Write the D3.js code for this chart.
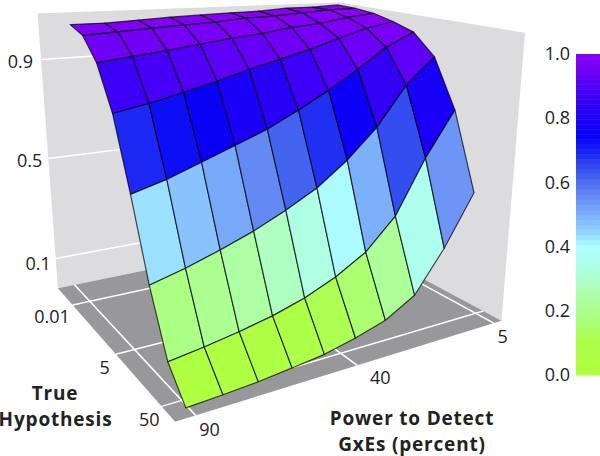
<!DOCTYPE html>
<html>
<head>
<meta charset="utf-8">
<style>
	body { margin: 0; background: #fff; }
	text { font-family: "Open Sans", "Noto Sans", sans-serif; fill: #222; }
	.title { font-weight: 700; letter-spacing: 0.8px; }
</style>
<script src="https://cdn.jsdelivr.net/npm/d3@7"></script>
</head>
<body>
<svg id="chart" width="600" height="456"></svg>
<script>
// grid categories
var powers = [90, 80, 70, 60, 50, 40, 30, 20, 10, 5];
var hypotheses = [0.01, 0.05, 0.1, 1, 5, 10, 25, 50];

// probability for each hypothesis row, read left (90) to right (5)
var row001 = [0.981, 0.981, 0.984, 0.987, 0.989, 0.991, 0.992, 0.996, 0.996, 0.999];
var row005 = [0.969, 0.972, 0.976, 0.979, 0.982, 0.987, 0.989, 0.993, 0.997, 0.998];
var row01 = [0.928, 0.935, 0.942, 0.950, 0.958, 0.964, 0.973, 0.978, 0.988, 0.994];
var row1 = [0.802, 0.824, 0.851, 0.880, 0.907, 0.922, 0.937, 0.956, 0.973, 0.984];
var row5 = [0.554, 0.587, 0.630, 0.674, 0.718, 0.775, 0.837, 0.903, 0.943, 0.970];
var row10 = [0.278, 0.311, 0.351, 0.396, 0.451, 0.514, 0.601, 0.710, 0.858, 0.929];
var row25 = [0.071, 0.084, 0.100, 0.127, 0.164, 0.216, 0.286, 0.402, 0.607, 0.776];
var row50 = [0.000, 0.005, 0.011, 0.021, 0.032, 0.052, 0.078, 0.137, 0.295, 0.489];
var rows = [row001, row005, row01, row1, row5, row10, row25, row50];

// tick labels
var powerTicks = [90, 40, 5];
var hypTicks = [0.01, 5, 50];
var valueTicks = [0.1, 0.5, 0.9];
var legendTicks = [0, 0.2, 0.4, 0.6, 0.8, 1];

// colour ramp of the legend
var colorStops = [0, 0.1, 0.17, 0.25, 0.33, 0.4, 0.45, 0.55, 0.62, 0.74, 0.85, 1];
var colorValues = ["#b0ff40", "#aeff48", "#aaff78", "#aeffa8", "#aeffe0", "#aeffff", "#90d0ff", "#6a90f4", "#4060ee", "#0400f6", "#3000f5", "#8c00f5"];

var svg = d3.select("#chart");

// box coordinates are all 0..1, the camera turns them into pixels
var camera = [
	[345.272, 72.299, -23.619, 57.933],
	[-9.519, 25.520, -275.906, 288.158],
	[0.20440, -0.25620, -0.08752, 1]
];

function project(p) {
	var w = camera[2][0] * p[0] + camera[2][1] * p[1] + camera[2][2] * p[2] + camera[2][3];
	return [
		(camera[0][0] * p[0] + camera[0][1] * p[1] + camera[0][2] * p[2] + camera[0][3]) / w,
		(camera[1][0] * p[0] + camera[1][1] * p[1] + camera[1][2] * p[2] + camera[1][3]) / w
	];
}

var x = d3.scalePoint().domain(powers).range([0.05, 0.91]);
var y = d3.scalePoint().domain(hypotheses).range([0.141, 0.938]);
var z = d3.scaleLinear().domain([0, 0.1, 0.9, 1]).range([-0.01, 0.117, 0.838, 1.009]);

var xTick = d3.scaleLinear().domain([90, 40, 5]).range([0.05, 0.498, 0.97]);
var yTick = d3.scaleLinear().domain([0.01, 5, 50]).range([0.163, 0.568, 0.912]);
var zTick = d3.scaleLinear().domain([0.1, 0.5, 0.9]).range([0.117, 0.495, 0.845]);

var color = d3.scaleLinear().domain(colorStops).range(colorValues).clamp(true);

var path = d3.line();

function poly(points) {
	return path(points.map(project)) + "Z";
}

// walls and floor
svg.append("path").attr("d", poly([[0, 0, 0], [1, 0, 0], [1, 0, 1], [0, 0, 1]])).attr("fill", "#dcdcde");
svg.append("path").attr("d", poly([[1, 0, 0], [1, 1, 0], [1, 1, 1], [1, 0, 1]])).attr("fill", "#dcdcde");
svg.append("path").attr("d", poly([[0, 0, 0], [1, 0, 0], [1, 1, 0], [0, 1, 0]])).attr("fill", "#98989b");

// white grid lines
function whiteLine(a, b) {
	svg.append("path")
		.attr("d", path([project(a), project(b)]))
		.attr("stroke", "#fff")
		.attr("stroke-width", 1.5)
		.attr("fill", "none");
}

valueTicks.forEach(function(t) { whiteLine([0, 0, zTick(t)], [1, 0, zTick(t)]); });
hypTicks.forEach(function(t) { whiteLine([0, yTick(t), 0], [1, yTick(t), 0]); });
powerTicks.forEach(function(t) { whiteLine([xTick(t), 0, 0], [xTick(t), 1, 0]); });

// surface cells, back row first
var cells = [];
for (var j = 0; j < hypotheses.length - 1; j++) {
	for (var i = 0; i < powers.length - 1; i++) {
		cells.push({i: i, j: j});
	}
}

function corner(i, j) {
	return [x(powers[i]), y(hypotheses[j]), z(rows[j][i])];
}

svg.append("g").selectAll("path")
	.data(cells)
	.enter()
	.append("path")
		.attr("d", function(d) {
			return poly([corner(d.i, d.j), corner(d.i + 1, d.j), corner(d.i + 1, d.j + 1), corner(d.i, d.j + 1)]);
		})
		.attr("fill", function(d) {
			return color((rows[d.j][d.i] + rows[d.j][d.i + 1] + rows[d.j + 1][d.i] + rows[d.j + 1][d.i + 1]) / 4);
		})
		.attr("stroke", "#000")
		.attr("stroke-opacity", 0.7)
		.attr("stroke-width", 1.2)
		.attr("stroke-linejoin", "round");

// tick labels hang off the box edges
function label(p, dx, dy, txt, anchor) {
	var q = project(p);
	svg.append("text")
		.attr("x", q[0] + dx)
		.attr("y", q[1] + dy)
		.attr("text-anchor", anchor)
		.attr("font-size", 18)
		.text(txt);
}

label([0, 0, zTick(0.9)], -8, 9, "0.9", "end");
label([0, 0, zTick(0.5)], -6, 9, "0.5", "end");
label([0, 0, zTick(0.1)], -5, 11, "0.1", "end");
label([0, yTick(0.01), 0], -3, 18, "0.01", "end");
label([0, yTick(5), 0], -6, 20, "5", "end");
label([0, yTick(50), 0], -2, 20, "50", "end");
label([xTick(90), 1, 0], 14, 21, "90", "middle");
label([xTick(40), 1, 0], 23, 19, "40", "middle");
label([xTick(5), 1, 0], 9, 20, "5", "middle");

// axis titles
function title(cx, cy, txt) {
	svg.append("text")
		.attr("class", "title")
		.attr("x", cx)
		.attr("y", cy)
		.attr("text-anchor", "middle")
		.attr("font-size", 19)
		.text(txt);
}

title(55, 400, "True");
title(55.5, 426, "Hypothesis");
title(412, 425, "Power to Detect");
title(412, 451, "GxEs (percent)");

// legend
var legend = d3.scaleLinear().domain([0, 1]).range([375, 54]);
var levels = d3.range(64).map(function(k) { return k / 64; });

svg.append("g").selectAll("rect")
	.data(levels)
	.enter()
	.append("rect")
		.attr("x", 576)
		.attr("width", 24)
		.attr("y", function(d) { return legend(d + 1 / 64); })
		.attr("height", legend(0) - legend(1 / 64) + 0.5)
		.attr("fill", function(d) { return color(d + 1 / 128); });

var legendAxis = svg.append("g")
	.attr("transform", "translate(576,0)")
	.call(d3.axisLeft(legend).tickValues(legendTicks).tickSize(0).tickPadding(6).tickFormat(d3.format(".1f")));
legendAxis.select(".domain").remove();
legendAxis.selectAll("text").attr("font-size", 18).attr("font-family", null);
</script>
</body>
</html>
